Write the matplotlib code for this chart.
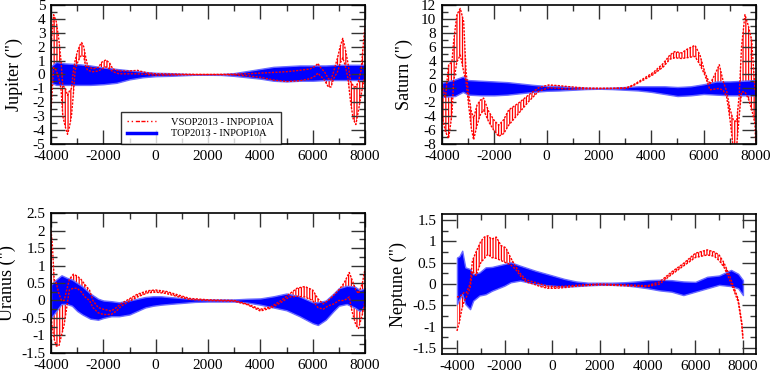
import matplotlib
matplotlib.use('Agg')
import matplotlib.pyplot as plt
from matplotlib.ticker import MultipleLocator, FormatStrFormatter
from matplotlib.lines import Line2D

# envelopes (upper / lower), in arcsec, vs year
jup_vsop_year = [-4000, -3900, -3800, -3700, -3620, -3550, -3450, -3370, -3300, -3220, -3150, -3080,
                 -3000, -2900, -2830, -2750, -2680, -2600, -2400, -2200, -2050, -1900, -1750, -1640,
                 -1400, -1000, -700, -300, 0, 1000, 2000, 3000, 3500, 4000, 4500, 5000, 5500, 5900,
                 6100, 6200, 6300, 6450, 6600, 6700, 6800, 6950, 7050, 7150, 7250, 7350, 7450, 7550,
                 7650, 7750, 7850, 7950, 8000]
jup_vsop_hi = [2.0, 4.3, 3.8, 2.5, 1.0, -0.8, -1.0, -1.5, -1.2, -1.0, 0.2, 1.0,
               1.6, 2.1, 2.3, 2.0, 1.3, 0.6, 0.4, 0.5, 0.9, 1.05, 0.8, 0.4,
               0.25, 0.25, 0.3, 0.1, 0.05, 0.02, 0.0, 0.02, 0.05, 0.1, 0.15, 0.2, 0.3, 0.4,
               0.6, 0.8, 0.5, 0.2, -0.3, -0.4, 0.2, 1.2, 2.0, 2.6, 1.8, 0.8, -0.5, -0.8,
               -0.9, -0.5, 0.3, 2.5, 3.5]
jup_vsop_lo = [-2.6, 0.5, 0.3, -0.3, -1.0, -3.0, -3.8, -4.3, -3.8, -3.0, -1.5, 0.3,
               0.8, 1.2, 1.4, 1.3, 0.6, 0.3, 0.2, 0.25, 0.4, 0.55, 0.4, 0.2,
               0.05, 0.05, 0.05, 0.0, -0.05, -0.02, 0.0, -0.02, -0.1, -0.2, -0.4, -0.5, -0.45, -0.3,
               -0.1, 0.1, -0.1, -0.4, -0.9, -0.9, -0.3, 0.2, 0.8, 1.2, 0.6, -0.3, -2.0, -3.2,
               -3.6, -2.6, -1.5, -0.5, 0.0]
jup_top_year = [-4000, -3800, -3500, -3000, -2500, -2000, -1500, -1000, -500, 0, 500, 1000, 1500,
                2000, 2500, 3000, 3500, 4000, 4500, 5000, 5500, 6000, 6500, 7000, 7500, 8000]
jup_top_hi = [0.6, 0.9, 0.8, 0.75, 0.65, 0.5, 0.4, 0.3, 0.2, 0.12, 0.1, 0.06, 0.02,
              0.02, 0.03, 0.1, 0.25, 0.4, 0.55, 0.6, 0.65, 0.65, 0.65, 0.7, 0.7, 0.7]
jup_top_lo = [-0.6, -0.75, -0.75, -0.75, -0.75, -0.7, -0.6, -0.35, -0.2, -0.12, -0.1, -0.06, -0.02,
              -0.02, -0.03, -0.1, -0.2, -0.3, -0.45, -0.5, -0.45, -0.45, -0.4, -0.4, -0.4, -0.4]

sat_vsop_year = [-4000, -3870, -3745, -3620, -3555, -3430, -3300, -3170, -3080, -2980, -2880, -2790,
                 -2660, -2535, -2410, -2215, -2025, -1835, -1640, -1450, -1070, -690, -300, 80, 460,
                 840, 1500, 2500, 3050, 3310, 3700, 4080, 4460, 4710, 4900, 5160, 5350, 5670, 5860,
                 6050, 6240, 6430, 6600, 6750, 6880, 7010, 7130, 7260, 7360, 7450, 7580, 7710,
                 7835, 7960, 8000]
sat_vsop_hi = [0.5, -1.4, 3.4, 3.8, 6.7, 10.6, 11.5, 9.6, 2.4, -0.9, -3.3, -4.3,
               -2.4, -1.7, -1.4, -3.3, -4.5, -5.3, -4.5, -3.1, -2.1, -0.95, 0.1, 0.5, 0.4,
               0.25, 0.05, 0.0, 0.1, 0.5, 1.4, 2.3, 3.6, 4.8, 5.3, 5.1, 5.6, 6.2, 4.8,
               2.3, 0.6, 2.0, 3.4, 1.0, -0.4, -3.0, -4.5, -4.8, -1.0, 6.0, 10.6, 9.0,
               7.0, 0.0, -1.0]
sat_vsop_lo = [-4.0, -6.2, -7.2, -3.8, 1.0, 3.8, 4.8, 2.4, 1.0, -2.4, -5.7, -7.4,
               -5.3, -3.8, -3.1, -4.8, -6.0, -6.9, -6.5, -5.3, -3.6, -1.9, -0.4, 0.1, 0.0,
               -0.1, -0.05, 0.0, 0.0, 0.4, 1.2, 2.0, 3.1, 4.2, 4.4, 4.3, 4.4, 4.6, 3.4,
               1.9, -0.2, -0.1, 0.0, -0.3, -1.2, -4.5, -8.5, -8.5, -4.0, -0.5, -0.5, -1.5,
               -3.0, -5.0, -8.5]
sat_top_year = [-4000, -3500, -3200, -3000, -2500, -2000, -1500, -1000, -500, 0, 500, 1000, 1500,
                2000, 2500, 3000, 3500, 4000, 4500, 5000, 5500, 6000, 6500, 7000, 7500, 8000]
sat_top_hi = [0.8, 1.3, 1.7, 1.2, 1.1, 1.0, 0.9, 0.7, 0.5, 0.35, 0.3, 0.2, 0.1,
              0.05, 0.1, 0.2, 0.3, 0.3, 0.3, 0.2, 0.3, 0.6, 1.0, 1.0, 1.1, 1.2]
sat_top_lo = [-1.2, -1.1, -0.5, -0.9, -1.0, -1.0, -0.9, -0.7, -0.5, -0.35, -0.3, -0.2, -0.1,
              -0.05, -0.1, -0.2, -0.3, -0.5, -0.8, -1.1, -1.0, -0.8, -0.9, -1.0, -1.0, -1.0]

ura_vsop_year = [-4000, -3950, -3880, -3800, -3700, -3600, -3500, -3400, -3300, -3150, -3000, -2850,
                 -2700, -2530, -2400, -2200, -2000, -1700, -1500, -1300, -1000, -700, -300, 0, 400,
                 900, 1300, 2000, 3000, 3500, 4000, 4400, 4800, 5100, 5400, 5700, 6000, 6200, 6400,
                 6600, 6800, 7000, 7200, 7400, 7500, 7650, 7750, 7900, 8000]
ura_vsop_hi = [2.0, 1.6, 0.6, 0.5, 0.2, 0.0, 0.0, 0.3, 0.6, 0.75, 0.7, 0.6,
               0.45, 0.3, 0.0, -0.2, -0.25, -0.3, -0.2, -0.08, 0.05, 0.18, 0.28, 0.3, 0.26,
               0.15, 0.06, 0.02, 0.0, -0.1, -0.25, -0.18, 0.0, 0.18, 0.35, 0.4, 0.3, 0.05, -0.1,
               0.0, 0.15, 0.3, 0.5, 0.8, 0.6, 0.3, 0.2, 0.5, 0.9]
ura_vsop_lo = [-0.4, -0.8, -1.1, -1.3, -1.3, -1.0, -0.7, -0.2, 0.3, 0.35, 0.35, 0.25,
               0.1, 0.0, -0.2, -0.35, -0.4, -0.4, -0.3, -0.15, -0.02, 0.1, 0.22, 0.24, 0.2,
               0.1, 0.03, 0.0, -0.02, -0.12, -0.3, -0.22, -0.05, 0.1, 0.12, 0.1, 0.0, -0.2, -0.25,
               -0.15, -0.1, 0.0, 0.0, 0.1, -0.3, -0.7, -0.8, -0.4, 0.0]
ura_top_year = [-4000, -3800, -3600, -3400, -3200, -3000, -2800, -2500, -2200, -2000, -1700, -1400,
                -1000, -700, -400, -100, 200, 500, 1000, 1500, 2000, 2500, 3000, 3500, 4000, 4500,
                5000, 5500, 6000, 6200, 6500, 6800, 7000, 7300, 7600, 7800, 8000]
ura_top_hi = [0.45, 0.6, 0.72, 0.65, 0.6, 0.5, 0.4, 0.2, 0.05, 0.0, -0.02, -0.05,
              0.0, 0.05, 0.1, 0.12, 0.12, 0.1, 0.07, 0.04, 0.03, 0.03, 0.03, 0.05, 0.06, 0.12,
              0.2, 0.12, -0.05, -0.05, 0.0, 0.2, 0.35, 0.42, 0.4, 0.3, 0.35]
ura_top_lo = [-0.5, -0.3, -0.1, -0.1, -0.15, -0.3, -0.4, -0.52, -0.55, -0.5, -0.45, -0.45,
              -0.4, -0.3, -0.2, -0.15, -0.12, -0.1, -0.07, -0.04, -0.03, -0.03, -0.03, -0.06, -0.12, -0.2,
              -0.28, -0.45, -0.65, -0.7, -0.55, -0.3, -0.15, -0.1, -0.2, -0.3, -0.15]

nep_vsop_year = [-4000, -3900, -3800, -3700, -3600, -3450, -3350, -3200, -3000, -2850, -2700, -2550,
                 -2350, -2150, -1950, -1750, -1550, -1350, -1100, -800, -500, -200, 200, 600, 1000,
                 2000, 3000, 4000, 4500, 5000, 5500, 6000, 6500, 6800, 7000, 7200, 7400, 7600,
                 7800, 7950, 8000]
nep_vsop_hi = [-0.3, -0.3, -0.25, -0.2, -0.2, 0.0, 0.55, 0.75, 1.0, 1.1, 1.13, 1.05,
               1.1, 0.9, 0.85, 0.62, 0.42, 0.25, 0.1, 0.05, 0.0, -0.05, -0.06, -0.05, -0.03,
               0.0, -0.02, -0.04, 0.05, 0.28, 0.48, 0.72, 0.8, 0.75, 0.68, 0.5, 0.25, -0.05,
               -0.35, -0.9, -1.25]
nep_vsop_lo = [-1.1, -0.9, -0.6, -0.4, -0.3, -0.1, 0.3, 0.2, 0.5, 0.6, 0.7, 0.62,
               0.6, 0.55, 0.5, 0.45, 0.35, 0.2, 0.05, 0.0, -0.06, -0.1, -0.1, -0.08, -0.05,
               -0.02, -0.04, -0.06, 0.0, 0.22, 0.42, 0.62, 0.68, 0.65, 0.55, 0.4, 0.15, -0.12,
               -0.42, -0.95, -1.3]
nep_top_year = [-4000, -3900, -3780, -3650, -3450, -3320, -3060, -2800, -2540, -2010, -1750, -1350,
                -700, 0, 500, 1000, 1500, 2000, 2500, 3000, 3500, 4000, 4500, 5000, 5500, 6000,
                6500, 7000, 7500, 7800, 8000]
nep_top_hi = [0.62, 0.65, 0.78, 0.39, 0.35, 0.23, 0.27, 0.39, 0.4, 0.47, 0.51, 0.43,
              0.31, 0.2, 0.12, 0.06, 0.03, 0.03, 0.03, 0.04, 0.06, 0.09, 0.1, 0.09, 0.06, 0.05,
              0.17, 0.2, 0.33, 0.24, 0.09]
nep_top_lo = [-0.47, -0.35, -0.24, -0.47, -0.59, -0.39, -0.27, -0.24, -0.16, -0.04, 0.04, 0.08,
              0.0, -0.04, -0.06, -0.05, -0.03, -0.02, -0.02, -0.03, -0.06, -0.1, -0.15, -0.18, -0.26, -0.18,
              -0.1, -0.02, -0.05, -0.1, -0.26]

legend_labels = ['VSOP2013 - INPOP10A', 'TOP2013 - INPOP10A']

plt.rcParams['font.family'] = ['Liberation Serif', 'DejaVu Serif']
plt.rcParams['axes.unicode_minus'] = False
plt.rcParams['hatch.linewidth'] = 0.9


def panel(ax, vy, vhi, vlo, ty, thi, tlo, xlim, ylim, ystep, yminor, label, lx):
    ax.fill_between(vy, vlo, vhi, facecolor='none', edgecolor='red', hatch='||||||', linewidth=0)
    ax.plot(vy, vhi, color='red', lw=1.0, ls=(0, (1.5, 1)))
    ax.plot(vy, vlo, color='red', lw=1.0, ls=(0, (1.5, 1)))
    ax.fill_between(ty, tlo, thi, facecolor='#0000ff', edgecolor='#6a6aff', linewidth=1.0)
    ax.set_xlim(xlim)
    ax.set_ylim(ylim)
    ax.xaxis.set_major_locator(MultipleLocator(2000))
    ax.xaxis.set_minor_locator(MultipleLocator(1000))
    ax.yaxis.set_major_locator(MultipleLocator(ystep))
    ax.yaxis.set_minor_locator(MultipleLocator(yminor))
    ax.xaxis.set_major_formatter(FormatStrFormatter('%g'))
    ax.yaxis.set_major_formatter(FormatStrFormatter('%g'))
    ax.tick_params(which='both', direction='in', top=True, right=True, width=1, color='#333333')
    ax.tick_params(which='major', length=10, labelsize=11, pad=4)
    ax.tick_params(which='minor', length=4.5)
    for s in ax.spines.values():
        s.set_linewidth(1.2)
    ax.set_ylabel(label, fontsize=13)
    ax.yaxis.set_label_coords(lx, 0.5)


fig = plt.figure(figsize=(7.72, 3.72), dpi=100)
ax1 = fig.add_axes([0.0661, 0.6129, 0.4067, 0.3737])
ax2 = fig.add_axes([0.5725, 0.6129, 0.4067, 0.3737])
ax3 = fig.add_axes([0.0661, 0.0511, 0.4067, 0.3763])
ax4 = fig.add_axes([0.5725, 0.0484, 0.4067, 0.3763])

panel(ax1, jup_vsop_year, jup_vsop_hi, jup_vsop_lo, jup_top_year, jup_top_hi, jup_top_lo,
      (-4000, 8000), (-5, 5), 1, 0.5, 'Jupiter (")', -0.089)
panel(ax2, sat_vsop_year, sat_vsop_hi, sat_vsop_lo, sat_top_year, sat_top_hi, sat_top_lo,
      (-4000, 8000), (-8, 12), 2, 1, 'Saturn (")', -0.092)
panel(ax3, ura_vsop_year, ura_vsop_hi, ura_vsop_lo, ura_top_year, ura_top_hi, ura_top_lo,
      (-4000, 8000), (-1.5, 2.5), 0.5, 0.25, 'Uranus (")', -0.113)
panel(ax4, nep_vsop_year, nep_vsop_hi, nep_vsop_lo, nep_top_year, nep_top_hi, nep_top_lo,
      (-4629, 8545), (-1.64, 1.64), 0.5, 0.25, 'Neptune (")', -0.111)

handles = [Line2D([], [], color='red', lw=1, ls=(0, (1, 2, 1, 2, 3, 1, 3, 1))),
           Line2D([], [], color='blue', lw=2.5)]
leg = ax1.legend(handles, legend_labels, loc='lower left', bbox_to_anchor=(0.223, 0.0, 0.509, 0.252),
                 mode='expand', fontsize=7.5, frameon=True, fancybox=False, borderaxespad=0,
                 handlelength=2.8, handletextpad=1.4, labelspacing=0.2, borderpad=0.55)
leg.get_frame().set_edgecolor('black')
leg.get_frame().set_linewidth(1)

fig.savefig('out.png', dpi=100)
